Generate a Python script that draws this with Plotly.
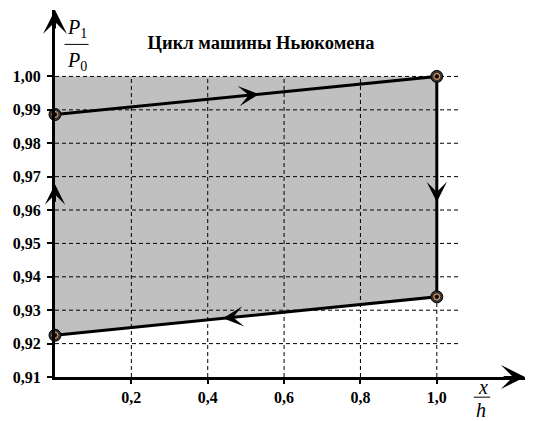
import plotly.graph_objects as go

# cycle corners (x/h, P1/P0): start -> top right -> bottom right -> bottom left
cycle_x = [0.0, 1.0, 1.0, 0.0]
cycle_y = [0.9886, 1.000, 0.934, 0.9225]

x_ticks = [0.2, 0.4, 0.6, 0.8, 1.0]
y_ticks = [0.91, 0.92, 0.93, 0.94, 0.95, 0.96, 0.97, 0.98, 0.99, 1.00]

title = "Цикл машины Ньюкомена"

x_max = 1.231
y_min, y_max = 0.91, 1.0199
grid_x_end = 1.06
grid_y_top = 1.00

serif = "Liberation Serif, Times New Roman, serif"

fig = go.Figure()

# grey area under the top level
fig.add_trace(go.Scatter(
    x=[0, 1, cycle_x[2], cycle_x[3], 0],
    y=[grid_y_top, grid_y_top, cycle_y[2], cycle_y[3], grid_y_top],
    fill='toself', fillcolor='#c0c0c0', mode='none', hoverinfo='skip'))

# dashed grid, only up to 1.00
gx, gy = [], []
for t in x_ticks:
    gx += [t, t, None]
    gy += [y_min, grid_y_top, None]
for t in y_ticks[1:]:
    gx += [0, grid_x_end, None]
    gy += [t, t, None]
fig.add_trace(go.Scatter(x=gx, y=gy, mode='lines',
                         line=dict(color='black', width=1, dash='4px,3px'),
                         hoverinfo='skip'))

# cycle lines
fig.add_trace(go.Scatter(x=cycle_x, y=cycle_y, mode='lines',
                         line=dict(color='black', width=3), hoverinfo='skip'))

# corner markers (ring style)
fig.add_trace(go.Scatter(x=cycle_x, y=cycle_y, mode='markers', cliponaxis=False,
                         marker=dict(size=12, color='#333333',
                                     line=dict(color='black', width=1))))
fig.add_trace(go.Scatter(x=cycle_x, y=cycle_y, mode='markers', cliponaxis=False,
                         marker=dict(size=6, symbol='circle-open',
                                     line=dict(color='#aaaaaa', width=1))))
fig.add_trace(go.Scatter(x=cycle_x, y=cycle_y, mode='markers', cliponaxis=False,
                         marker=dict(size=3, color='black')))


def on_line(i, j, t):
    return (cycle_x[i] + (cycle_x[j] - cycle_x[i]) * t,
            cycle_y[i] + (cycle_y[j] - cycle_y[i]) * t)


def flow_arrow(tip, tail, size=1.7):
    fig.add_annotation(x=tip[0], y=tip[1], ax=tail[0], ay=tail[1],
                       xref='x', yref='y', axref='x', ayref='y', text='',
                       showarrow=True, arrowhead=3, arrowwidth=2, arrowsize=size,
                       arrowcolor='black', standoff=0)


flow_arrow(on_line(0, 1, 0.534), on_line(0, 1, 0.50))
flow_arrow(on_line(1, 2, 0.57), on_line(1, 2, 0.51))
flow_arrow(on_line(2, 3, 0.56), on_line(2, 3, 0.52))
flow_arrow((0, 0.9677), (0, 0.962))

# axis arrowheads
flow_arrow((0, y_max), (0, y_max - 0.006), size=2.0)
flow_arrow((x_max, y_min), (x_max - 0.06, y_min), size=2.0)

# axis titles as fractions
frac_font = dict(family=serif, size=20, color='black')
fig.add_annotation(x=0.058, y=1.0145, xref='x', yref='y', showarrow=False,
                   text='<i>P</i><sub>1</sub>', font=frac_font)
fig.add_annotation(x=0.058, y=1.0045, xref='x', yref='y', showarrow=False,
                   text='<i>P</i><sub>0</sub>', font=frac_font)
fig.add_shape(type='line', xref='x', yref='y', x0=0.025, x1=0.088,
              y0=1.0096, y1=1.0096, line=dict(color='black', width=1))

# x/h sits below the axis range, so place it in paper units
fig.add_annotation(x=0.925, y=-0.062, xref='paper', yref='paper', showarrow=False,
                   text='<i>x</i>', font=frac_font)
fig.add_annotation(x=0.922, y=-0.124, xref='paper', yref='paper', showarrow=False,
                   text='<i>h</i>', font=frac_font)
fig.add_shape(type='line', xref='paper', yref='paper', x0=0.891, x1=0.926,
              y0=-0.055, y1=-0.055, line=dict(color='black', width=1))

tick_font = dict(family=serif, size=16, color='black', weight='bold')

# page body adds 8px offset, so the margins are shifted by 8px
fig.update_layout(
    width=533, height=421,
    margin=dict(l=47, r=16, t=2, b=52, autoexpand=False),
    plot_bgcolor='white', paper_bgcolor='white',
    showlegend=False,
    separators=',.',
    title=dict(text=title, x=253 / 533, xref='container', y=1 - 35 / 421,
               yref='container', xanchor='center', yanchor='middle',
               automargin=False,
               font=dict(family=serif, size=18.5, color='black', weight='bold')),
    xaxis=dict(range=[0, x_max], tickvals=x_ticks, tickformat='.1f',
               showgrid=False, zeroline=False, showline=True, linecolor='black',
               linewidth=3, ticks='outside', ticklen=4, tickwidth=2,
               tickcolor='black', tickfont=tick_font, ticklabelstandoff=0,
               automargin=False),
    yaxis=dict(range=[y_min, y_max], tickvals=y_ticks, tickformat='.2f',
               showgrid=False, zeroline=False, showline=True, linecolor='black',
               linewidth=3, ticks='outside', ticklen=5, tickwidth=2,
               tickcolor='black', tickfont=tick_font, ticklabelstandoff=3,
               automargin=False),
)

fig.write_html("out.html")
